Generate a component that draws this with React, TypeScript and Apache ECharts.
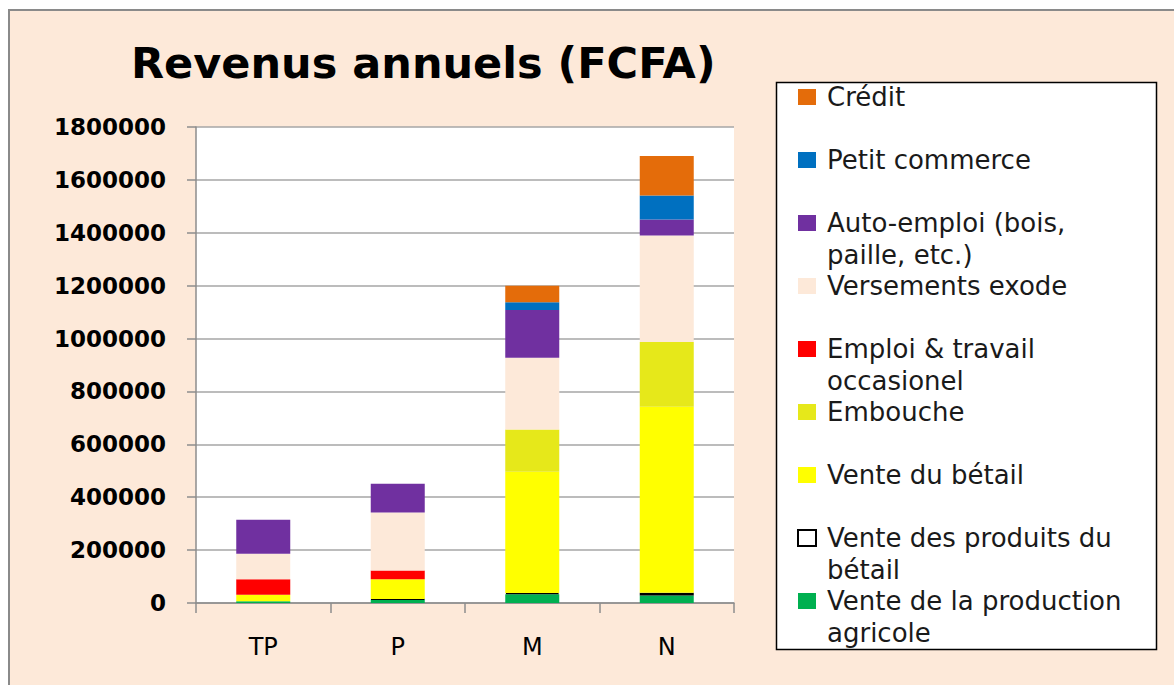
import React, { useEffect, useRef } from "react";
import * as echarts from "echarts";

const categories = ["TP", "P", "M", "N"];
const yMin = 0;
const yMax = 1800000;
const yInterval = 200000;

// stacked from bottom to top
const venteProductionAgricole = [7000, 13000, 33000, 28000];
const venteProduitsBetail = [0, 2000, 5000, 11000];
const venteBetail = [24000, 75000, 458000, 703000];
const embouche = [0, 0, 160000, 245000];
const emploiTravail = [59000, 33000, 0, 0];
const versementsExode = [96000, 219000, 271000, 403000];
const autoEmploi = [129000, 109000, 181000, 60000];
const petitCommerce = [0, 0, 29000, 91000];
const credit = [0, 0, 63000, 149000];

const seriesNames = [
  "Vente de la production agricole",
  "Vente des produits du bétail",
  "Vente du bétail",
  "Embouche",
  "Emploi & travail occasionel",
  "Versements exode",
  "Auto-emploi (bois, paille, etc.)",
  "Petit commerce",
  "Crédit",
];
const seriesValues = [
  venteProductionAgricole,
  venteProduitsBetail,
  venteBetail,
  embouche,
  emploiTravail,
  versementsExode,
  autoEmploi,
  petitCommerce,
  credit,
];
const seriesColors = [
  "#00B050",
  "#FFFFFF",
  "#FFFF00",
  "#E6E81A",
  "#FF0000",
  "#FDE9D9",
  "#7030A0",
  "#0070C0",
  "#E46C0A",
];
const legendLabels: Record<string, string> = {
  "Vente de la production agricole": "Vente de la production\nagricole",
  "Vente des produits du bétail": "Vente des produits du\nbétail",
  "Vente du bétail": "Vente du bétail\n ",
  Embouche: "Embouche\n ",
  "Emploi & travail occasionel": "Emploi & travail\noccasionel",
  "Versements exode": "Versements exode\n ",
  "Auto-emploi (bois, paille, etc.)": "Auto-emploi (bois,\npaille, etc.)",
  "Petit commerce": "Petit commerce\n ",
  Crédit: "Crédit\n ",
};

const FONT = "DejaVu Sans";

export default function App() {
  const ref = useRef<HTMLDivElement>(null);
  useEffect(() => {
    if (!ref.current) return;
    const chart = echarts.init(ref.current, null, { renderer: "svg" });
    const series = seriesNames.map((name, i) => ({
      name,
      type: "bar",
      stack: "total",
      barWidth: 54,
      data: seriesValues[i].map((v) => (v === 0 ? null : v)),
      itemStyle:
        i === 1
          ? { color: seriesColors[i], borderColor: "#000", borderWidth: 1.5 }
          : { color: seriesColors[i] },
      emphasis: { disabled: true },
    }));
    chart.setOption({
      animation: false,
      backgroundColor: "#FDE9D9",
      title: {
        text: "Revenus annuels (FCFA)",
        left: 131,
        top: 41,
        padding: 0,
        textStyle: { fontFamily: FONT, fontWeight: "bold", fontSize: 43, color: "#000" },
      },
      graphic: [
        { type: "rect", shape: { x: 0, y: 0, width: 1174, height: 9 }, style: { fill: "#fff" }, silent: true },
        { type: "rect", shape: { x: 0, y: 0, width: 8, height: 685 }, style: { fill: "#fff" }, silent: true },
        { type: "line", shape: { x1: 8, y1: 10, x2: 1174, y2: 10 }, style: { stroke: "#8A8A8A", lineWidth: 2 }, silent: true },
        { type: "line", shape: { x1: 9, y1: 9, x2: 9, y2: 685 }, style: { stroke: "#8A8A8A", lineWidth: 2 }, silent: true },
        {
          type: "rect",
          z: 1,
          shape: { x: 776.5, y: 82.5, width: 380, height: 567 },
          style: { fill: "#fff", stroke: "#000", lineWidth: 1.5 },
          silent: true,
        },
      ],
      legend: {
        orient: "vertical",
        left: 797,
        top: 81.25,
        padding: 0,
        itemGap: 0,
        itemWidth: 24,
        itemHeight: 47.5,
        icon: "path://M0,0h18v16h-18zM24,47.5",
        selectedMode: false,
        data: seriesNames.slice().reverse(),
        formatter: (name: string) => legendLabels[name] || name,
        textStyle: { fontFamily: FONT, fontSize: 26, lineHeight: 31.5, color: "#1a1a1a" },
        z: 5,
      },
      grid: {
        left: 196,
        right: 440,
        top: 127,
        bottom: 82,
        show: true,
        backgroundColor: "#fff",
        borderWidth: 0,
      },
      xAxis: {
        type: "category",
        data: categories,
        axisLine: { lineStyle: { color: "#8C8C8C", width: 1.5 } },
        axisTick: { show: true, length: 10, lineStyle: { color: "#8C8C8C", width: 1.5 } },
        axisLabel: { fontFamily: FONT, fontSize: 24, color: "#000", margin: 32 },
      },
      yAxis: {
        type: "value",
        min: yMin,
        max: yMax,
        interval: yInterval,
        axisLine: { show: true, lineStyle: { color: "#8C8C8C", width: 1.5 } },
        axisTick: { show: true, length: 9, lineStyle: { color: "#8C8C8C", width: 1.5 } },
        splitLine: { lineStyle: { color: "#A6A6A6", width: 1.5 } },
        axisLabel: {
          fontFamily: FONT,
          fontWeight: "bold",
          fontSize: 23,
          color: "#000",
          margin: 30,
          formatter: (v: number) => String(v),
        },
      },
      series,
    });
    return () => chart.dispose();
  }, []);
  return (
    <div
      ref={ref}
      style={{ position: "absolute", left: 0, top: 0, width: 1174, height: 685 }}
    />
  );
}
